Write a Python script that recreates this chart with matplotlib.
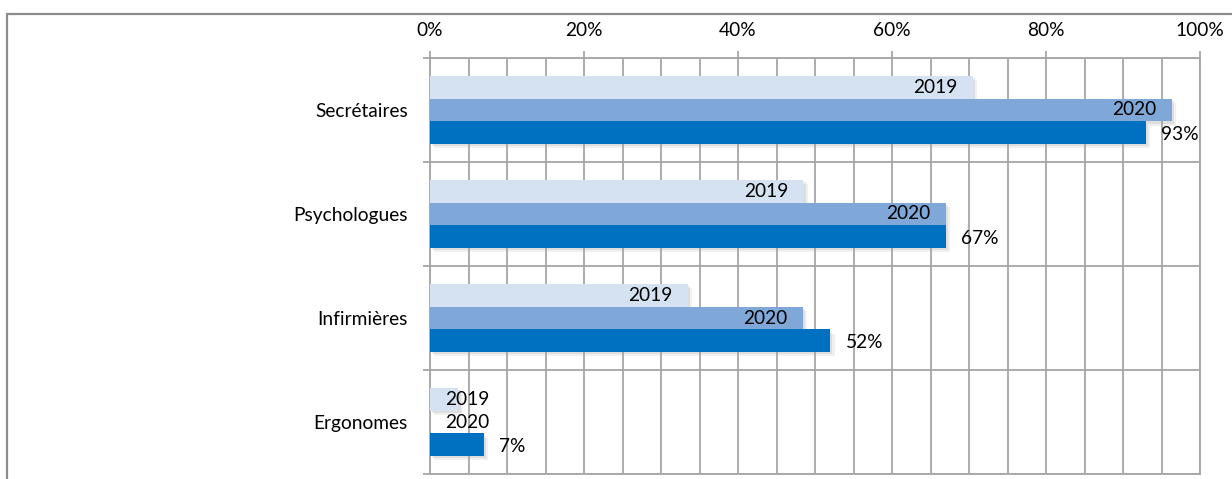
import numpy as np
import matplotlib
matplotlib.use("Agg")
import matplotlib.pyplot as plt
import matplotlib.patheffects as pe
from matplotlib.ticker import MultipleLocator, PercentFormatter, FixedLocator

plt.rcParams['font.family'] = ['Lato', 'DejaVu Sans']

categories = ["Secrétaires", "Psychologues", "Infirmières", "Ergonomes"]
series_names = ["2019", "2020", "2021"]
values_2019 = [70.5, 48.5, 33.5, 3.7]
values_2020 = [96.3, 67.0, 48.4, 0.0]
values_last = [93, 67, 52, 7]
colors = ["#D5E2F1", "#7FA8D8", "#0070C0"]

grid_col = "#A6A6A6"
fs = 13.8

fig = plt.figure(figsize=(12.32, 4.79), dpi=100)
ax = fig.add_axes([430 / 1232, 1 - 474 / 479, 770 / 1232, 416 / 479])

# outer chart frame
frame = plt.Rectangle((7 / 1232, -0.05), 1.2, 1 - 14 / 479 + 0.05, transform=fig.transFigure,
                      fill=False, edgecolor="#8C8C8C", lw=1.6, zorder=0)
fig.add_artist(frame)

y = np.arange(len(categories))
h = 0.22
# soft drop shadow, drawn as its own layer so it stays behind every bar
shadow = [pe.SimplePatchShadow(offset=(3, -3), shadow_rgbFace="#b0b0b0", alpha=0.18),
          pe.SimplePatchShadow(offset=(1.5, -1.5), shadow_rgbFace="#a0a0a0", alpha=0.22)]

all_series = [values_2019, values_2020, values_last]
for i, vals in enumerate(all_series):
    off = (i - 1) * h
    sh = ax.barh(y + off, vals, height=h, color=colors[i], zorder=2)
    for b in sh:
        b.set_path_effects(shadow)
    ax.barh(y + off, vals, height=h, color=colors[i], zorder=3)
    for yy, v in zip(y + off, vals):
        if i < 2:
            if v > 8:
                ax.text(v - 2.0, yy, series_names[i], ha="right", va="center", fontsize=fs, zorder=5)
            else:
                ax.text(2.0, yy, series_names[i], ha="left", va="center", fontsize=fs, zorder=5)
        else:
            ax.text(v + 2.0, yy + 0.02, f"{v}%", ha="left", va="center", fontsize=fs, zorder=5)

ax.set_xlim(0, 100)
ax.set_ylim(3.5, -0.5)

ax.xaxis.set_major_locator(MultipleLocator(20))
ax.xaxis.set_minor_locator(MultipleLocator(5))
ax.xaxis.set_major_formatter(PercentFormatter(decimals=0))
ax.xaxis.tick_top()
ax.tick_params(axis="x", which="major", length=5, color=grid_col, width=1.3, labelsize=fs, pad=9)
ax.tick_params(axis="x", which="minor", length=0)

ax.set_yticks(y)
ax.set_yticklabels(categories)
ax.yaxis.set_minor_locator(FixedLocator([-0.5, 0.5, 1.5, 2.5, 3.5]))
ax.tick_params(axis="y", which="major", length=0, labelsize=fs, pad=16)
ax.tick_params(axis="y", which="minor", length=5, color=grid_col, width=1.3)

ax.grid(True, axis="x", which="both", color=grid_col, lw=1.3, zorder=0)
ax.grid(True, axis="y", which="minor", color=grid_col, lw=1.3, zorder=0)
ax.set_axisbelow(True)
for s in ax.spines.values():
    s.set_color(grid_col)
    s.set_linewidth(1.3)

fig.savefig("out.png", dpi=100)
